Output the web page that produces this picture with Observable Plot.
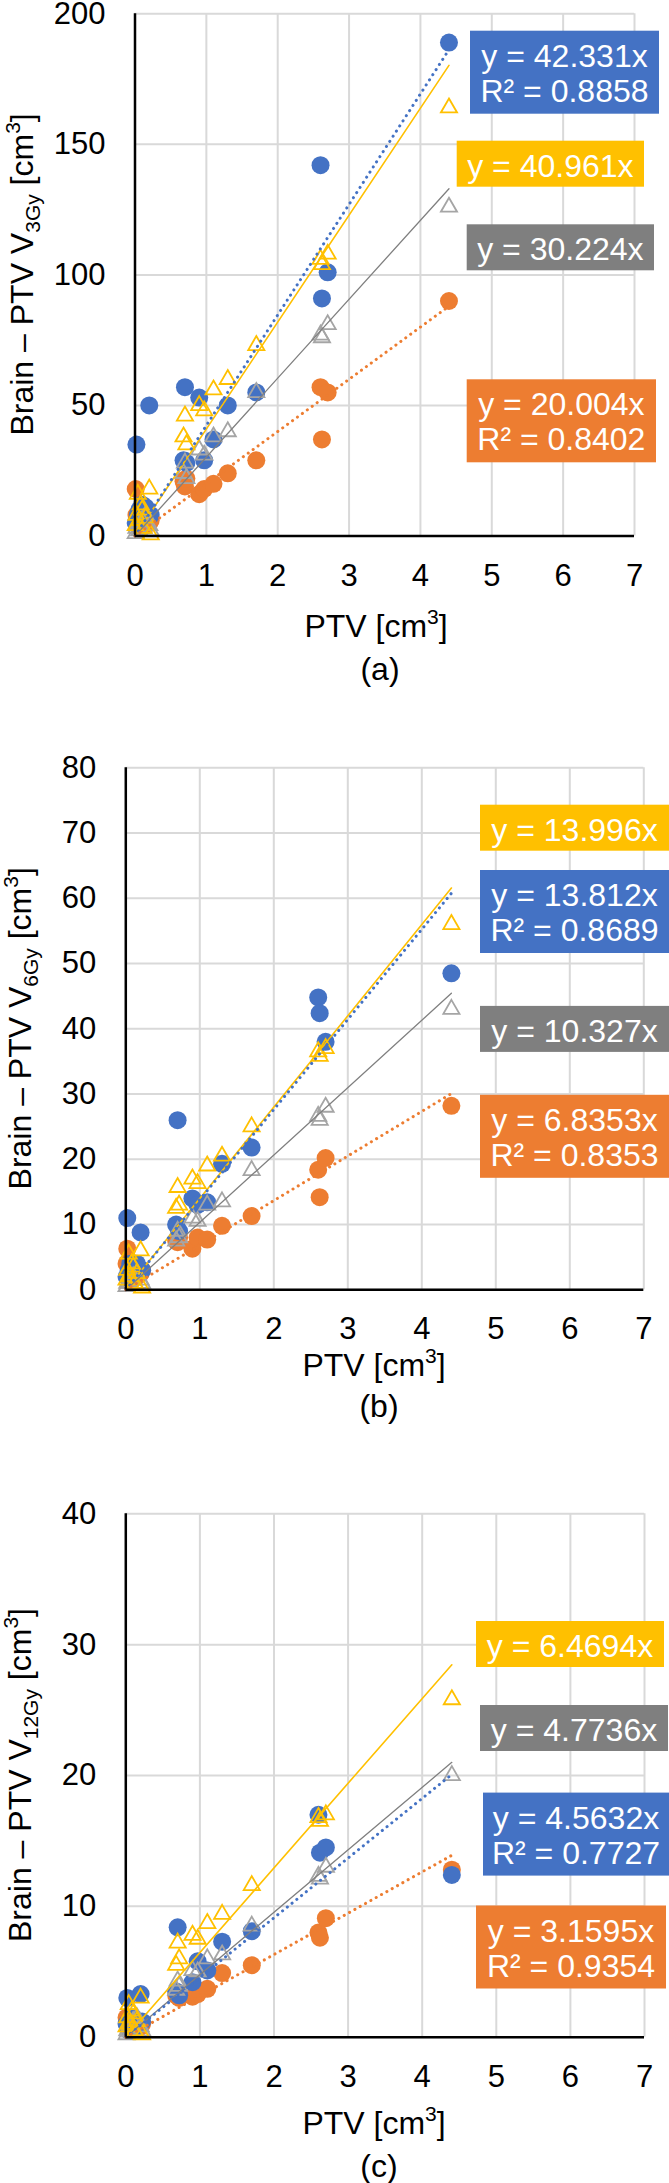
<!DOCTYPE html>
<html>
<head>
<meta charset="utf-8">
<script src="https://cdn.jsdelivr.net/npm/d3@7"></script>
<script src="https://cdn.jsdelivr.net/npm/@observablehq/plot@0.6"></script>
<style>
  body { margin: 0; background: #fff; }
  #chart { width: 669px; }
  #chart svg { display: block; }
</style>
</head>
<body>
<div id="chart"></div>
<script>
// ---------- data ----------
const ptv = [0.01, 0.02, 0.04, 0.06, 0.08, 0.10, 0.12, 0.15, 0.20, 0.22, 0.68, 0.70, 0.72, 0.90, 0.97, 1.10, 1.30, 1.70, 2.60, 2.62, 2.70, 4.40];

// panel (a) V3Gy
const aBlue   = [5, 35, 8, 10, 6, 12, 9, 11, 50, 8, 29, 57, 28, 53, 29, 37, 50, 55, 142, 91, 101, 189];
const aOrange = [18, 8, 4, 6, 3, 7, 5, 4, 5, 6, 21, 19, 22, 16, 18, 20, 24, 29, 57, 37, 55, 90];
const aYellow = [4, 8, 16, 6, 12, 10, 3, 7, 18, 0.5, 38, 46, 35, 50, 48, 56, 60, 73, 106, 104, 108, 164];
const aGray   = [1, 3, 5, 2, 4, 6, 3, 8, 4, 2, 24, 28, 22, 33, 31, 38, 40, 55, 77, 76, 81, 126];

// panel (b) V6Gy
const bBlue   = [2, 11, 3, 4, 2.5, 3.5, 3, 4, 8.8, 3, 10, 26, 9, 14, 13, 13.4, 19.3, 21.8, 44.8, 42.4, 38, 48.5];
const bOrange = [4, 6.3, 2, 3, 1.5, 2.5, 2, 2, 2.5, 3, 7.5, 7.3, 8, 6.3, 8, 7.7, 9.8, 11.3, 18.4, 14.2, 20.2, 28.2];
const bYellow = [1.5, 3, 5.5, 2, 4, 3.5, 1, 2.5, 6, 0.3, 12.5, 15.7, 13, 17, 16.3, 19, 20.5, 25, 36.5, 35.8, 37, 56];
const bGray   = [0.5, 1, 2, 1, 1.5, 2, 1, 2.5, 1.5, 1, 7.5, 9, 8, 11, 10.5, 13, 13.5, 18.3, 26.6, 26, 28, 43];

// panel (c) V12Gy
const cBlue   = [1, 3, 0.5, 1.2, 0.8, 1.5, 0.7, 1, 3.3, 1.2, 3.5, 8.4, 3.2, 4.2, 5.8, 5.1, 7.3, 8.1, 17, 14.1, 14.5, 12.4];
const cOrange = [1.5, 1.2, 0.8, 0.5, 1, 0.6, 0.9, 0.7, 0.8, 1, 3.2, 3.4, 3, 3.1, 3.3, 3.7, 4.9, 5.5, 8, 7.6, 9.1, 12.8];
const cYellow = [0.8, 1.5, 2.5, 1, 2, 1.8, 0.5, 1.2, 3, 0.2, 5.5, 7.2, 6, 7.8, 7.5, 8.7, 9.4, 11.6, 16.8, 16.5, 17, 25.8];
const cGray   = [0.2, 0.5, 1, 0.4, 0.8, 1.2, 0.5, 1.5, 0.8, 0.5, 3.6, 4.3, 3.9, 5.1, 5, 6, 6.3, 8.5, 12.3, 12.1, 13, 20];

// trendline slopes and R² (order: blue, orange, yellow, gray)
const slopesA = [42.331, 20.004, 40.961, 30.224];
const slopesB = [13.812, 6.8353, 13.996, 10.327];
const slopesC = [4.5632, 3.1595, 6.4694, 4.7736];
const r2A = [0.8858, 0.8402, null, null];
const r2B = [0.8689, 0.8353, null, null];
const r2C = [0.7727, 0.9354, null, null];

// axes
const xTicks = [0, 1, 2, 3, 4, 5, 6, 7];
const yTicksA = [0, 50, 100, 150, 200];
const yTicksB = [0, 10, 20, 30, 40, 50, 60, 70, 80];
const yTicksC = [0, 10, 20, 30, 40];
const doseSubs = ["3Gy", "6Gy", "12Gy"];
const captions = ["(a)", "(b)", "(c)"];

// ---------- styling ----------
const FONT = "'Liberation Sans', Arial, Helvetica, sans-serif";
const BLUE = "#4472C4", ORANGE = "#ED7D31", YELLOW = "#FFC000", GRAY = "#A5A5A5", GRAYLINE = "#7F7F7F", GRAYBOX = "#7F7F7F";
const boxColors = [BLUE, ORANGE, YELLOW, GRAYBOX];
const TICKFS = 31, TITLEFS = 32, BOXFS = 32, SMALLFS = 21;

function panel(o) {
  const rows = ys => ptv.map((x, i) => ({x, y: ys[i]}));
  const xmax = d3.max(ptv);
  const trend = k => [0, xmax].map(x => ({x, y: k * x}));
  const [sB, sO, sY, sG] = o.slopes;
  const dotted = {strokeWidth: 3, strokeDasharray: "0.1 6", strokeLinecap: "round"};
  const svgEl = Plot.plot({
    width: 669,
    height: o.height,
    marginTop: o.mt, marginBottom: o.mb, marginLeft: o.ml, marginRight: o.mr,
    style: {fontFamily: FONT, fontSize: TICKFS + "px", color: "#000", background: "#fff", overflow: "visible"},
    x: {domain: [0, 7]},
    y: {domain: [0, d3.max(o.yTicks)]},
    marks: [
      Plot.gridX({ticks: xTicks, stroke: "#D9D9D9", strokeOpacity: 1, strokeWidth: 2}),
      Plot.gridY({ticks: o.yTicks, stroke: "#D9D9D9", strokeOpacity: 1, strokeWidth: 2}),
      Plot.dot(rows(o.orange), {x: "x", y: "y", r: 9, fill: ORANGE}),
      Plot.dot(rows(o.blue), {x: "x", y: "y", r: 9, fill: BLUE}),
      Plot.dot(rows(o.gray), {x: "x", y: "y", r: 6, symbol: "triangle", fill: "none", stroke: GRAY, strokeWidth: 1.8}),
      Plot.dot(rows(o.yellow), {x: "x", y: "y", r: 6, symbol: "triangle", fill: "none", stroke: YELLOW, strokeWidth: 1.8}),
      Plot.line(trend(sG), {x: "x", y: "y", stroke: GRAYLINE, strokeWidth: 1.3}),
      Plot.line(trend(sY), {x: "x", y: "y", stroke: YELLOW, strokeWidth: 1.6}),
      Plot.line(trend(sB), {x: "x", y: "y", stroke: BLUE, ...dotted}),
      Plot.line(trend(sO), {x: "x", y: "y", stroke: ORANGE, ...dotted}),
      Plot.ruleX([0], {stroke: "#000", strokeWidth: 2.5}),
      Plot.ruleY([0], {stroke: "#000", strokeWidth: 2.5}),
      Plot.axisX({ticks: xTicks, tickFormat: d => `${d}`, tickSize: 0, tickPadding: 27.5, fontSize: TICKFS, label: null}),
      Plot.axisY({ticks: o.yTicks, tickFormat: d => `${d}`, tickSize: 0, tickPadding: 29.5, fontSize: TICKFS, label: null})
    ]
  });

  const svg = d3.select(svgEl);
  const g = svg.append("g").attr("font-family", FONT).attr("font-size", TITLEFS).attr("fill", "#000");

  // y axis title (rotated)
  const yc = (o.mt + (o.height - o.mb)) / 2;
  const yt = g.append("text")
    .attr("transform", `translate(${o.ylx},${yc}) rotate(-90)`)
    .attr("text-anchor", "middle");
  yt.append("tspan").text("Brain – PTV V");
  yt.append("tspan").attr("font-size", SMALLFS).attr("dy", 7).text(o.sub);
  yt.append("tspan").attr("dy", -7).text(" [cm");
  yt.append("tspan").attr("font-size", SMALLFS).attr("dy", -13).text("3");
  yt.append("tspan").attr("dy", 13).text("]");

  // x axis title
  const xt = g.append("text").attr("x", o.xlx).attr("y", o.xly).attr("text-anchor", "middle");
  xt.append("tspan").text("PTV [cm");
  xt.append("tspan").attr("font-size", SMALLFS).attr("dy", -13).text("3");
  xt.append("tspan").attr("dy", 13).text("]");

  // caption
  g.append("text").attr("x", o.capx).attr("y", o.capy).attr("text-anchor", "middle").text(o.caption);

  // trendline equation boxes
  o.boxes.forEach(b => {
    const k = o.slopes[b.s], r2 = o.r2[b.s];
    const lines = [`y = ${k}x`];
    if (r2 != null) lines.push(`R² = ${r2}`);
    g.append("rect").attr("x", b.x).attr("y", b.y).attr("width", b.w)
      .attr("height", lines.length > 1 ? 83 : 46).attr("fill", boxColors[b.s]);
    lines.forEach((t, j) => {
      g.append("text").attr("x", b.x + b.w / 2).attr("y", b.y + 36 + j * 35)
        .attr("font-size", BOXFS)
        .attr("text-anchor", "middle").attr("fill", "#fff").text(t);
    });
  });

  document.getElementById("chart").appendChild(svgEl);
}

panel({
  height: 700, mt: 13.3, mb: 164.5, ml: 134.5, mr: 35,
  blue: aBlue, orange: aOrange, yellow: aYellow, gray: aGray,
  slopes: slopesA, r2: r2A, yTicks: yTicksA, sub: doseSubs[0], caption: captions[0],
  ylx: 33, xlx: 376, xly: 636.5, capx: 380, capy: 680,
  boxes: [
    {s: 0, x: 470, y: 30.7, w: 189},
    {s: 2, x: 456.7, y: 140.7, w: 187.3},
    {s: 3, x: 466.7, y: 224.3, w: 187.3},
    {s: 1, x: 466.7, y: 379.3, w: 189.3}
  ]
});

panel({
  height: 740, mt: 67.3, mb: 150.7, ml: 125.3, mr: 25.7,
  blue: bBlue, orange: bOrange, yellow: bYellow, gray: bGray,
  slopes: slopesB, r2: r2B, yTicks: yTicksB, sub: doseSubs[1], caption: captions[1],
  ylx: 30.5, xlx: 374, xly: 676, capx: 379, capy: 717,
  boxes: [
    {s: 2, x: 480, y: 104.7, w: 189},
    {s: 0, x: 480, y: 170, w: 189},
    {s: 3, x: 480, y: 305.9, w: 189},
    {s: 1, x: 480, y: 394.8, w: 189}
  ]
});

panel({
  height: 743, mt: 73.3, mb: 146.3, ml: 125.3, mr: 25,
  blue: cBlue, orange: cOrange, yellow: cYellow, gray: cGray,
  slopes: slopesC, r2: r2C, yTicks: yTicksC, sub: doseSubs[2], caption: captions[2],
  ylx: 31, xlx: 374, xly: 693.5, capx: 379, capy: 737,
  boxes: [
    {s: 2, x: 476, y: 181, w: 188},
    {s: 3, x: 480, y: 265, w: 188},
    {s: 0, x: 483, y: 352.6, w: 186},
    {s: 1, x: 476, y: 465.5, w: 190}
  ]
});
</script>
</body>
</html>
